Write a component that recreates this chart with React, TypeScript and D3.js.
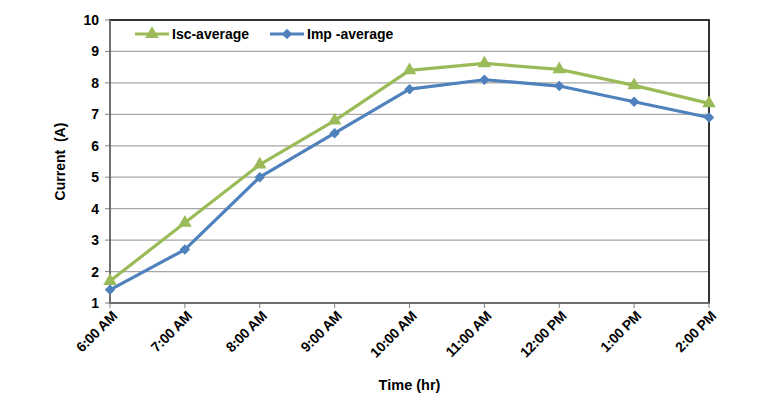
import * as d3 from "d3";

const categories = ["6:00 AM", "7:00 AM", "8:00 AM", "9:00 AM", "10:00 AM", "11:00 AM", "12:00 PM", "1:00 PM", "2:00 PM"];
const iscAverage = [1.7, 3.55, 5.4, 6.8, 8.4, 8.62, 8.43, 7.92, 7.35];
const impAverage = [1.42, 2.7, 5.0, 6.4, 7.8, 8.1, 7.9, 7.4, 6.9];
const yTicks = [1, 2, 3, 4, 5, 6, 7, 8, 9, 10];

const width = 773;
const height = 404;
const margin = { top: 20, right: 64, bottom: 101, left: 110 };
const font = "'Liberation Sans', Arial, sans-serif";
const green = "#9BBB59";
const blue = "#4F81BD";

export default function App() {
  const innerWidth = width - margin.left - margin.right;
  const innerHeight = height - margin.top - margin.bottom;
  const x = d3.scalePoint<string>().domain(categories).range([0, innerWidth]);
  const y = d3.scaleLinear().domain([1, 10]).range([innerHeight, 0]);
  const line = d3
    .line<number>()
    .x((_, i) => x(categories[i]) ?? 0)
    .y((d) => y(d));

  const triangle = d3.symbol(d3.symbolTriangle, 80)() ?? "";
  // square turned 45deg gives the wider Excel-style diamond
  const diamond = d3.symbol(d3.symbolSquare, 55)() ?? "";

  return (
    <svg width={width} height={height} style={{ position: "absolute", left: 0, top: 0, background: "#fff" }} fontFamily={font}>
      <g transform={`translate(${margin.left}, ${margin.top})`}>
        {yTicks.map((t) => (
          <g key={t} transform={`translate(0, ${y(t)})`}>
            {t > 1 && t < 10 ? <line x1={0} x2={innerWidth} stroke="#a6a6a6" strokeWidth={1.2} /> : null}
            <line x1={-5} x2={0} stroke="#808080" />
            <text x={-11} y={5} textAnchor="end" fontSize={14} fontWeight="bold" fill="#000">
              {t}
            </text>
          </g>
        ))}

        <rect x={0} y={0} width={innerWidth} height={innerHeight} fill="none" stroke="#000" strokeWidth={1.6} />
        <line x1={0} x2={0} y1={0} y2={innerHeight} stroke="#808080" strokeWidth={1.6} />
        <line x1={0} x2={innerWidth} y1={innerHeight} y2={innerHeight} stroke="#808080" strokeWidth={1.6} />

        {categories.map((c) => (
          <g key={c} transform={`translate(${x(c)}, ${innerHeight})`}>
            <line y1={0} y2={5} stroke="#808080" />
            <text
              transform="translate(8, 14) rotate(-45)"
              textAnchor="end"
              fontSize={14}
              fontWeight="bold"
              letterSpacing={-0.3}
              fill="#000"
            >
              {c}
            </text>
          </g>
        ))}

        <path d={line(iscAverage) ?? ""} fill="none" stroke={green} strokeWidth={3.2} strokeLinejoin="round" />
        <path d={line(impAverage) ?? ""} fill="none" stroke={blue} strokeWidth={3.2} strokeLinejoin="round" />
        {iscAverage.map((v, i) => (
          <path key={`isc-${i}`} d={triangle} transform={`translate(${x(categories[i])}, ${y(v)})`} fill={green} />
        ))}
        {impAverage.map((v, i) => (
          <path key={`imp-${i}`} d={diamond} transform={`translate(${x(categories[i])}, ${y(v)}) rotate(45)`} fill={blue} />
        ))}

        <text
          transform={`translate(${-45}, ${innerHeight / 2}) rotate(-90)`}
          textAnchor="middle"
          fontSize={14}
          fontWeight="bold"
          fill="#000"
          style={{ whiteSpace: "pre" }}
        >
          {"Current  (A)"}
        </text>
        <text x={innerWidth / 2} y={innerHeight + 87} textAnchor="middle" fontSize={14.5} fontWeight="bold" fill="#000">
          Time (hr)
        </text>
      </g>

      <g transform="translate(135, 34)">
        <line x1={0} x2={34} stroke={green} strokeWidth={3.2} />
        <path d={triangle} transform="translate(17, 0)" fill={green} />
        <text x={37} y={5} fontSize={14} fontWeight="bold" fill="#000">
          Isc-average
        </text>
      </g>
      <g transform="translate(270, 34)">
        <line x1={0} x2={34} stroke={blue} strokeWidth={3.2} />
        <path d={diamond} transform="translate(17, 0) rotate(45)" fill={blue} />
        <text x={37} y={5} fontSize={14} fontWeight="bold" fill="#000">
          Imp -average
        </text>
      </g>
    </svg>
  );
}
